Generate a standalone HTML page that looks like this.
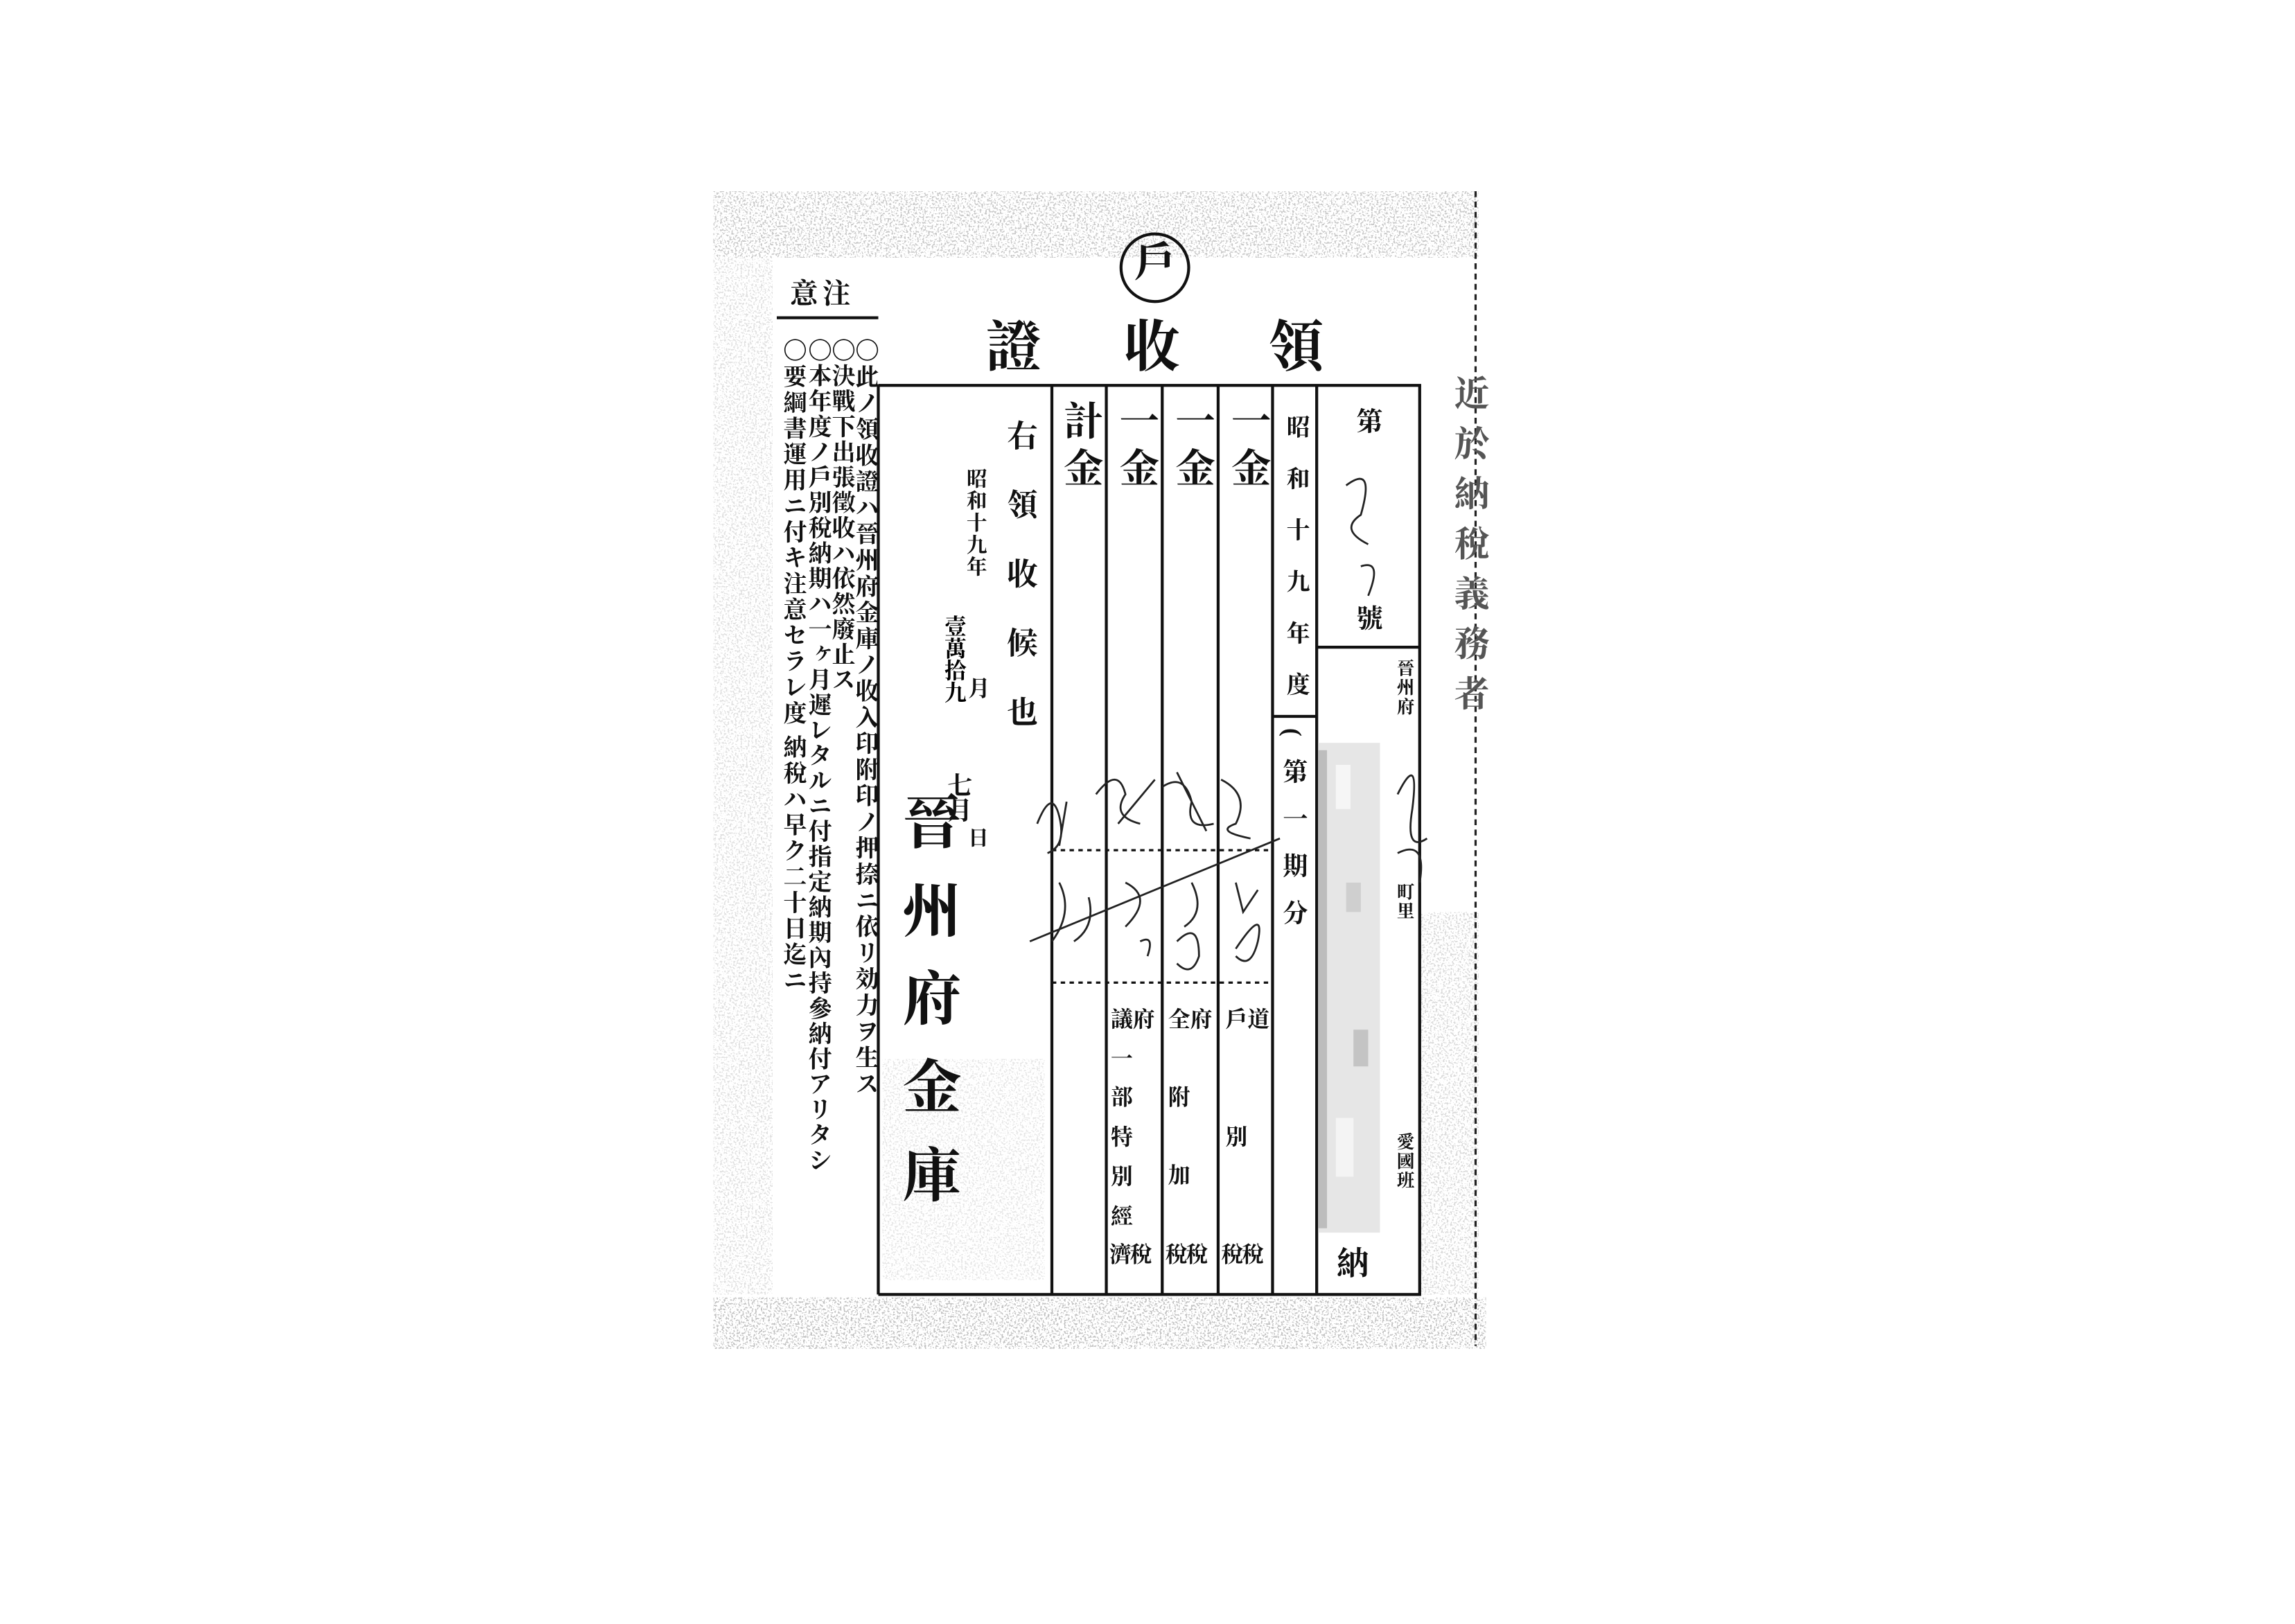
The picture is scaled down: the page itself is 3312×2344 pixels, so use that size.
<!DOCTYPE html>
<html><head><meta charset="utf-8"><style>
html,body{margin:0;padding:0;background:#fff;}
#wrap{position:relative;width:3312px;height:2344px;overflow:hidden;background:#fff;}
#c{position:absolute;left:0;top:0;width:1560px;height:1104px;transform:scale(2.1231);transform-origin:0 0;font-family:"Liberation Serif","Noto Serif CJK SC","Noto Sans CJK JP",serif;color:#111;}
.v{position:absolute;writing-mode:vertical-rl;white-space:nowrap;font-weight:bold;line-height:1;}
.t{position:absolute;font-weight:bold;line-height:1;white-space:nowrap;}
</style></head><body><div id="wrap"><div id="c">
<svg width="1560" height="1104" style="position:absolute;left:0;top:0">
<defs>
<filter id="n" x="0" y="0" width="100%" height="100%">
<feTurbulence type="fractalNoise" baseFrequency="0.8" numOctaves="2" seed="3"/>
<feColorMatrix type="matrix" values="0 0 0 0 0.25  0 0 0 0 0.25  0 0 0 0 0.25  25 0 0 0 -14"/>
</filter>
</defs>
<rect x="485" y="130" width="520" height="45" filter="url(#n)" opacity="0.45"/>
<rect x="485" y="882" width="525" height="35" filter="url(#n)" opacity="0.5"/>
<rect x="485" y="175" width="40" height="705" filter="url(#n)" opacity="0.25"/>
<rect x="965" y="620" width="40" height="260" filter="url(#n)" opacity="0.3"/>
<rect x="600" y="720" width="110" height="150" filter="url(#n)" opacity="0.2"/>
<line x1="1003" y1="130" x2="1003" y2="915" stroke="#222" stroke-width="1.5" stroke-dasharray="4,3"/>
<circle cx="785" cy="182" r="23" fill="none" stroke="#111" stroke-width="2"/>
<line x1="528" y1="216" x2="597" y2="216" stroke="#111" stroke-width="2"/>
<g stroke="#111" stroke-width="2" fill="none">
<line x1="597" y1="262" x2="966" y2="262"/>
<line x1="597" y1="880" x2="966" y2="880"/>
<line x1="597" y1="262" x2="597" y2="880"/>
<line x1="715" y1="262" x2="715" y2="880"/>
<line x1="752" y1="262" x2="752" y2="880"/>
<line x1="790" y1="262" x2="790" y2="880"/>
<line x1="828" y1="262" x2="828" y2="880"/>
<line x1="865" y1="262" x2="865" y2="880"/>
<line x1="895" y1="262" x2="895" y2="880"/>
<line x1="965" y1="262" x2="965" y2="880"/>
<line x1="895" y1="440" x2="965" y2="440"/>
<line x1="865" y1="487" x2="895" y2="487"/>
<line x1="715" y1="578" x2="865" y2="578" stroke-dasharray="3,3" stroke-width="1.5"/>
<line x1="715" y1="668" x2="865" y2="668" stroke-dasharray="3,3" stroke-width="1.5"/>
</g>
<g stroke="#222" stroke-width="1.3" fill="none">
<path d="M705 560 q10 -25 15 -5 q5 20 -8 25 M725 545 l-5 30"/>
<path d="M745 540 q15 -20 20 0 q-10 15 10 20 M760 560 l25 -30"/>
<path d="M790 535 q15 -10 20 10 q-5 20 15 15 M800 525 l20 40"/>
<path d="M830 530 q20 10 10 30 q-15 5 10 10"/>
<path d="M700 640 l170 -70"/>
<path d="M720 600 q10 20 -5 40 M740 610 q5 20 -10 30"/>
<path d="M765 600 q20 10 0 30 M775 640 q10 -5 5 10"/>
<path d="M810 600 q10 20 -5 30 M800 640 q15 -15 15 10 q-5 15 -15 5"/>
<path d="M840 600 l5 20 l10 -15 M840 645 q20 -30 15 -5 q-5 20 -15 10"/>
<path d="M915 330 q20 -15 10 20 q-15 10 5 20 M925 385 q15 -5 5 20"/>
<path d="M950 540 q15 -30 10 10 q-5 30 10 20 M950 580 q20 -10 15 20"/>
</g>
<g>
<rect x="896" y="505" width="42" height="333" fill="#e6e6e6"/>
<rect x="896" y="510" width="6" height="325" fill="#bdbdbd"/>
<rect x="915" y="600" width="10" height="20" fill="#cfcfcf"/>
<rect x="920" y="700" width="10" height="25" fill="#c4c4c4"/>
<rect x="908" y="520" width="10" height="30" fill="#f6f6f6"/>
<rect x="908" y="760" width="12" height="40" fill="#f4f4f4"/>
</g>
</svg>

<div class="t" style="left:771px;top:166px;font-size:28px;">戶</div>
<div class="t" style="left:862px;top:218px;font-size:38px;">領</div>
<div class="t" style="left:764px;top:218px;font-size:38px;">收</div>
<div class="t" style="left:670px;top:218px;font-size:38px;">證</div>
<div class="t" style="left:537px;top:191px;font-size:19px;letter-spacing:3px;">意注</div>

<div class="v" style="left:579px;top:230px;font-size:16px;letter-spacing:1.8px;">〇此ノ領收證ハ晉州府金庫ノ收入印附印ノ押捺ニ依リ効力ヲ生ス</div>
<div class="v" style="left:563px;top:230px;font-size:16px;letter-spacing:1.2px;">〇決戰下出張徵收ハ依然廢止ス</div>
<div class="v" style="left:547px;top:230px;font-size:16px;letter-spacing:1.2px;">〇本年度ノ戶別稅納期ハ一ヶ月遲レタルニ付指定納期內持參納付アリタシ</div>
<div class="v" style="left:530px;top:230px;font-size:16px;letter-spacing:1.6px;">〇要綱書運用ニ付キ注意セラレ度 納稅ハ早ク二十日迄ニ</div>

<div class="v" style="left:683px;top:285px;font-size:21px;letter-spacing:26px;">右領收候也</div>
<div class="v" style="left:655px;top:318px;font-size:14px;letter-spacing:1px;">昭和十九年</div>
<div class="v" style="left:640px;top:418px;font-size:15px;letter-spacing:0;color:#000;">壹萬拾九</div>
<div class="v" style="left:656px;top:460px;font-size:15px;">月</div>
<div class="v" style="left:642px;top:525px;font-size:17px;">七月</div>
<div class="v" style="left:656px;top:562px;font-size:14px;">日</div>
<div class="v" style="left:610px;top:538px;font-size:40px;letter-spacing:20px;">晉州府金庫</div>

<div class="v" style="left:720px;top:272px;font-size:27px;">計</div>
<div class="v" style="left:720px;top:304px;font-size:27px;">金</div>
<div class="v" style="left:758px;top:272px;font-size:27px;">一</div>
<div class="v" style="left:758px;top:304px;font-size:27px;">金</div>
<div class="v" style="left:796px;top:272px;font-size:27px;">一</div>
<div class="v" style="left:796px;top:304px;font-size:27px;">金</div>
<div class="v" style="left:834px;top:272px;font-size:27px;">一</div>
<div class="v" style="left:834px;top:304px;font-size:27px;">金</div>

<div class="v" style="left:872px;top:282px;font-size:16px;letter-spacing:19px;">昭和十九年度</div>
<div class="v" style="left:870px;top:495px;font-size:17px;letter-spacing:15px;">(第一期分</div>

<div class="v" style="left:921px;top:277px;font-size:18px;">第</div>
<div class="v" style="left:921px;top:411px;font-size:18px;">號</div>
<div class="v" style="left:949px;top:448px;font-size:12px;letter-spacing:1px;">晉州府</div>
<div class="v" style="left:949px;top:600px;font-size:12px;letter-spacing:1px;">町里</div>
<div class="v" style="left:949px;top:770px;font-size:12px;letter-spacing:1px;">愛國班</div>
<div class="v" style="left:907px;top:847px;font-size:22px;">納</div>

<div class="t" style="left:833px;top:687px;font-size:15px;">戶道</div>
<div class="t" style="left:833px;top:767px;font-size:15px;">別</div>
<div class="t" style="left:830px;top:847px;font-size:15px;letter-spacing:-1px;">稅稅</div>
<div class="t" style="left:794px;top:687px;font-size:15px;">全府</div>
<div class="t" style="left:794px;top:740px;font-size:15px;">附</div>
<div class="t" style="left:794px;top:793px;font-size:15px;">加</div>
<div class="t" style="left:792px;top:847px;font-size:15px;letter-spacing:-1px;">稅稅</div>
<div class="t" style="left:755px;top:687px;font-size:15px;">議府</div>
<div class="t" style="left:755px;top:714px;font-size:15px;">一</div>
<div class="t" style="left:755px;top:740px;font-size:15px;">部</div>
<div class="t" style="left:755px;top:767px;font-size:15px;">特</div>
<div class="t" style="left:755px;top:794px;font-size:15px;">別</div>
<div class="t" style="left:755px;top:821px;font-size:15px;">經</div>
<div class="t" style="left:754px;top:847px;font-size:15px;letter-spacing:-1px;">濟稅</div>

<div class="v" style="left:985px;top:255px;font-size:24px;letter-spacing:10px;color:#555;">近於納稅義務者</div>
</div></div></body></html>
